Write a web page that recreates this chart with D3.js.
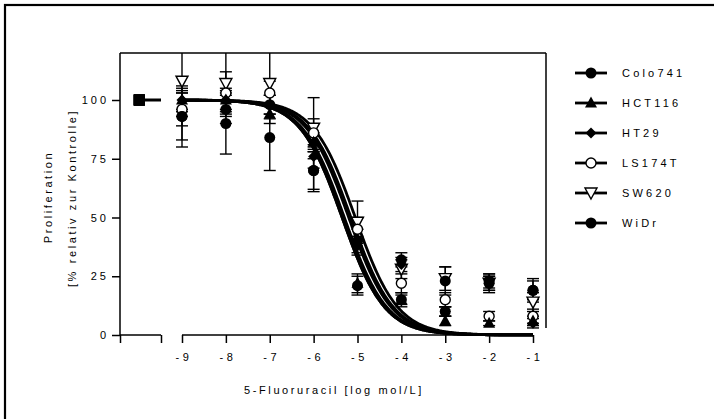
<!DOCTYPE html>
<html><head><meta charset="utf-8">
<script src="https://cdn.jsdelivr.net/npm/d3@7"></script>
<style>body{margin:0;background:#fff}text{font-family:"Liberation Sans",Arial,sans-serif;fill:#000}</style>
</head><body><svg id="c" width="714" height="419"></svg>
<script>
const xLogs = [-9, -8, -7, -6, -5, -4, -3, -2, -1];
const xTickLabels = ["-9","-8","-7","-6","-5","-4","-3","-2","-1"];
const yTicks = [0, 25, 50, 75, 100];
const seriesNames = ["Colo741","HCT116","HT29","LS174T","SW620","WiDr"];
const seriesShapes = ["circle","triangle","diamond","opencircle","tridown","circle"];
// control value (first) then values at log conc -9..-1
const colo741 = [100, 93, 96, 98, 70, 40, 32, 23, 23, 19];
const hct116  = [100, 100, 100, 94, 82, 22, 15, 6, 5, 6];
const ht29    = [100, 100, 100, 98, 76, 38, 30, 10, 22, 5];
const ls174t  = [100, 96, 103, 103, 86, 45, 22, 15, 8, 8];
const sw620   = [100, 108, 107, 107, 88, 48, 28, 24, 22, 14];
const widr    = [100, 93, 90, 84, 70, 21, 15, 10, 22, 19];
const colo741Sd = [0, 10, 6, 4, 8, 5, 3, 6, 3, 5];
const hct116Sd  = [0, 5, 4, 4, 4, 4, 2, 2, 1, 2];
const ht29Sd    = [0, 4, 5, 4, 5, 4, 3, 2, 3, 2];
const ls174tSd  = [0, 7, 9, 5, 6, 5, 4, 3, 2, 3];
const sw620Sd   = [0, 15, 14, 15, 13, 9, 4, 5, 4, 4];
const widrSd    = [0, 13, 13, 14, 9, 4, 3, 2, 3, 4];
// fitted sigmoid parameters
const logIC50 = [-5.2, -5.35, -5.3, -5.15, -5.05, -5.35];
const hill = [0.9, 0.9, 0.9, 0.9, 0.9, 0.9];

const values = [colo741, hct116, ht29, ls174t, sw620, widr];
const sds = [colo741Sd, hct116Sd, ht29Sd, ls174tSd, sw620Sd, widrSd];

const svg = d3.select("#c");
// outer frame
svg.append("rect").attr("x",5).attr("y",5).attr("width",720).attr("height",420)
  .attr("fill","none").attr("stroke","#000").attr("stroke-width",2.2);

const x = d3.scaleLinear().domain([-9,-1]).range([182,533]);
const xCtrl = d3.scaleLinear().domain([0,1]).range([120,161]);
const y = d3.scaleLinear().domain([0,120]).range([335,53]);
const ctrlX = xCtrl(0.47);
const right = 546;

const g = svg.append("g");
g.append("line").attr("x1",120).attr("x2",right).attr("y1",y(120)).attr("y2",y(120)).attr("stroke","#000").attr("stroke-width",1.5);
g.append("line").attr("x1",right).attr("x2",right).attr("y1",y(120)).attr("y2",y(3)).attr("stroke","#000").attr("stroke-width",1.5);

const yAx = g.append("g").attr("transform","translate(120,0)")
  .call(d3.axisLeft(y).tickValues(yTicks).tickSize(8).tickPadding(3));
yAx.select(".domain").attr("d",`M0,${y(120)}V${y(0)}`).attr("stroke-width",1.5);
yAx.selectAll(".tick line").attr("stroke-width",1.5);
yAx.selectAll("text").attr("font-size",11).style("letter-spacing","3px").attr("font-family","Liberation Sans");

const xAx = g.append("g").attr("transform",`translate(0,${y(0)})`)
  .call(d3.axisBottom(x).tickValues(xLogs).tickFormat((d,i)=>xTickLabels[i]).tickSize(8).tickPadding(10));
xAx.select(".domain").attr("d",`M${x(-9)},0H${x(-1)}`).attr("stroke-width",1.5);
xAx.selectAll(".tick line").attr("stroke-width",1.5);
xAx.selectAll("text").attr("font-size",11).style("letter-spacing","3.5px").attr("dx","1.5px").attr("font-family","Liberation Sans");
const cAx = g.append("g").attr("transform",`translate(0,${y(0)})`)
  .call(d3.axisBottom(xCtrl).tickValues([0,1]).tickFormat("").tickSize(8));
cAx.select(".domain").attr("d",`M${xCtrl(0)},0H${xCtrl(1)}`).attr("stroke-width",1.5);
cAx.selectAll(".tick line").attr("stroke-width",1.5);

const fit = (i, lx) => 100/(1+Math.pow(10, hill[i]*(lx - logIC50[i])));
const grid = d3.range(-9, -1.0001, 0.02).concat([-1]);
const line = d3.line().x(d=>x(d[0])).y(d=>y(d[1]));
seriesNames.forEach((n,i)=>{
  g.append("path").attr("d", line(grid.map(lx=>[lx, fit(i,lx)])))
    .attr("fill","none").attr("stroke","#000").attr("stroke-width",2.8);
});
g.append("line").attr("x1",ctrlX).attr("x2",xCtrl(1)).attr("y1",y(100)).attr("y2",y(100)).attr("stroke","#000").attr("stroke-width",3);

function marker(sel, shape, cx, cy, s) {
  if (shape==="circle") sel.append("circle").attr("cx",cx).attr("cy",cy).attr("r",5.5*s).attr("fill","#000");
  else if (shape==="opencircle") sel.append("circle").attr("cx",cx).attr("cy",cy).attr("r",5*s).attr("fill","#fff").attr("stroke","#000").attr("stroke-width",1.4);
  else if (shape==="triangle") sel.append("path").attr("d",`M${cx},${cy-6.5*s}L${cx+6*s},${cy+4.5*s}L${cx-6*s},${cy+4.5*s}Z`).attr("fill","#000");
  else if (shape==="tridown") sel.append("path").attr("d",`M${cx},${cy+6*s}L${cx+6*s},${cy-5*s}L${cx-6*s},${cy-5*s}Z`).attr("fill","#fff").attr("stroke","#000").attr("stroke-width",1.4);
  else if (shape==="diamond") sel.append("path").attr("d",`M${cx},${cy-5.5*s}L${cx+5.5*s},${cy}L${cx},${cy+5.5*s}L${cx-5.5*s},${cy}Z`).attr("fill","#000");
}

const pts = g.append("g");
const order = [4,3,0,1,2,5];
order.forEach(i=>{
  values[i].forEach((v,j)=>{
    const cx = j===0 ? ctrlX : x(xLogs[j-1]);
    const sd = sds[i][j];
    if (sd>0) {
      const top = Math.min(v+sd,120), bot = v-sd;
      pts.append("line").attr("x1",cx).attr("x2",cx).attr("y1",y(top)).attr("y2",y(bot)).attr("stroke","#000").attr("stroke-width",1.4);
      if (v+sd<=120) pts.append("line").attr("x1",cx-6).attr("x2",cx+6).attr("y1",y(top)).attr("y2",y(top)).attr("stroke","#000").attr("stroke-width",1.4);
      pts.append("line").attr("x1",cx-6).attr("x2",cx+6).attr("y1",y(bot)).attr("y2",y(bot)).attr("stroke","#000").attr("stroke-width",1.4);
    }
  });
});
order.forEach(i=>{
  values[i].forEach((v,j)=>{
    const cx = j===0 ? ctrlX : x(xLogs[j-1]);
    if (j===0) pts.append("rect").attr("x",cx-5.5).attr("y",y(v)-5.5).attr("width",11).attr("height",11).attr("fill","#000");
    else marker(pts, seriesShapes[i], cx, y(v), 1);
  });
});

svg.append("text").attr("x",334).attr("y",394).attr("text-anchor","middle").attr("font-size",11)
  .style("letter-spacing","2.6px").text("5-Fluoruracil [log mol/L]");
svg.append("text").attr("transform","translate(52,197) rotate(-90)").attr("text-anchor","middle").attr("font-size",11)
  .style("letter-spacing","2.6px").text("Proliferation");
svg.append("text").attr("transform","translate(76,198) rotate(-90)").attr("text-anchor","middle").attr("font-size",11)
  .style("letter-spacing","2.6px").text("[% relativ zur Kontrolle]");

const lg = svg.append("g");
seriesNames.forEach((n,i)=>{
  const ly = 73 + i*30;
  lg.append("line").attr("x1",575).attr("x2",607).attr("y1",ly).attr("y2",ly).attr("stroke","#000").attr("stroke-width",2.8);
  marker(lg, seriesShapes[i], 591, ly, 1);
  lg.append("text").attr("x",622).attr("y",ly+4).attr("font-size",11).style("letter-spacing","3.2px").text(n);
});
</script></body></html>
